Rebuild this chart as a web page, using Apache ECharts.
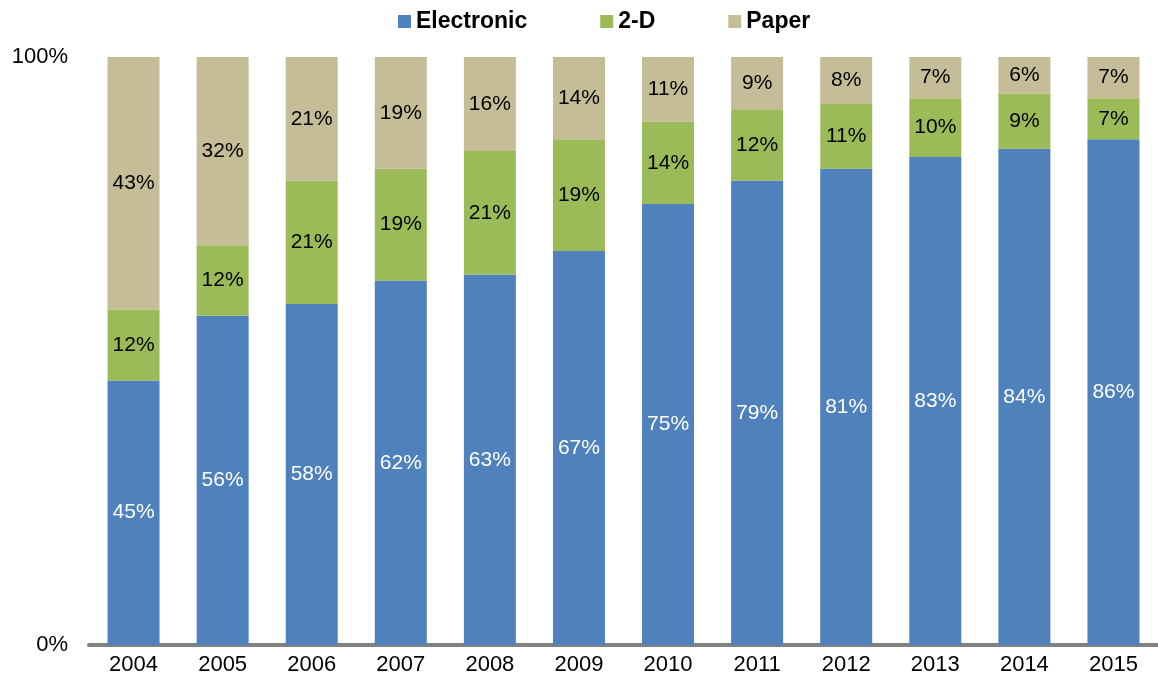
<!DOCTYPE html>
<html>
<head>
<meta charset="utf-8">
<script src="https://cdn.jsdelivr.net/npm/echarts@6/dist/echarts.min.js"></script>
<style>
  html, body { margin: 0; padding: 0; background: #fff; }
  #chart { width: 1158px; height: 687px; }
</style>
</head>
<body>
<div id="chart"></div>
<script>
var years = ['2004', '2005', '2006', '2007', '2008', '2009', '2010', '2011', '2012', '2013', '2014', '2015'];
var electronic = [45, 56, 58, 62, 63, 67, 75, 79, 81, 83, 84.4, 86];
var twoD = [12, 12, 21, 19, 21, 19, 14, 12, 11, 10, 9.4, 7];
var paper = [43, 32, 21, 19, 16, 14, 11, 9, 8, 7, 6.2, 7];

var font = '"Liberation Sans", Arial, sans-serif';

var myChart = echarts.init(document.getElementById('chart'));

function pct(p) {
  return Math.round(p.value) + '%';
}

function bar(name, data, color, textColor) {
  return {
    name: name,
    type: 'bar',
    stack: 'total',
    barWidth: 52,
    data: data,
    itemStyle: { color: color },
    label: {
      show: true,
      position: 'inside',
      color: textColor,
      fontFamily: font,
      fontSize: 21,
      formatter: pct
    },
    emphasis: { disabled: true }
  };
}

var options = {
  animation: false,
  legend: {
    top: 5,
    left: 393,
    itemWidth: 13,
    itemHeight: 13,
    itemGap: 73,
    icon: 'rect',
    textStyle: {
      fontFamily: font,
      fontSize: 23,
      fontWeight: 'bold',
      color: '#000'
    },
    data: ['Electronic', '2-D', 'Paper']
  },
  grid: {
    top: 57,
    left: 89,
    right: 0,
    bottom: 42,
    containLabel: false
  },
  xAxis: {
    type: 'category',
    data: years,
    axisTick: { show: false },
    axisLine: {
      show: true,
      lineStyle: { color: '#808080', width: 4 }
    },
    axisLabel: {
      color: '#000',
      fontFamily: font,
      fontSize: 22,
      margin: 9
    }
  },
  yAxis: {
    type: 'value',
    min: 0,
    max: 100,
    interval: 100,
    axisLine: { show: false },
    axisTick: { show: false },
    splitLine: { show: false },
    axisLabel: {
      color: '#000',
      fontFamily: font,
      fontSize: 22,
      margin: 21,
      formatter: '{value}%'
    }
  },
  series: [
    bar('Electronic', electronic, '#4F81BD', '#fff'),
    bar('2-D', twoD, '#9BBB59', '#000'),
    bar('Paper', paper, '#C4BD97', '#000')
  ]
};

myChart.setOption(options);
</script>
</body>
</html>
